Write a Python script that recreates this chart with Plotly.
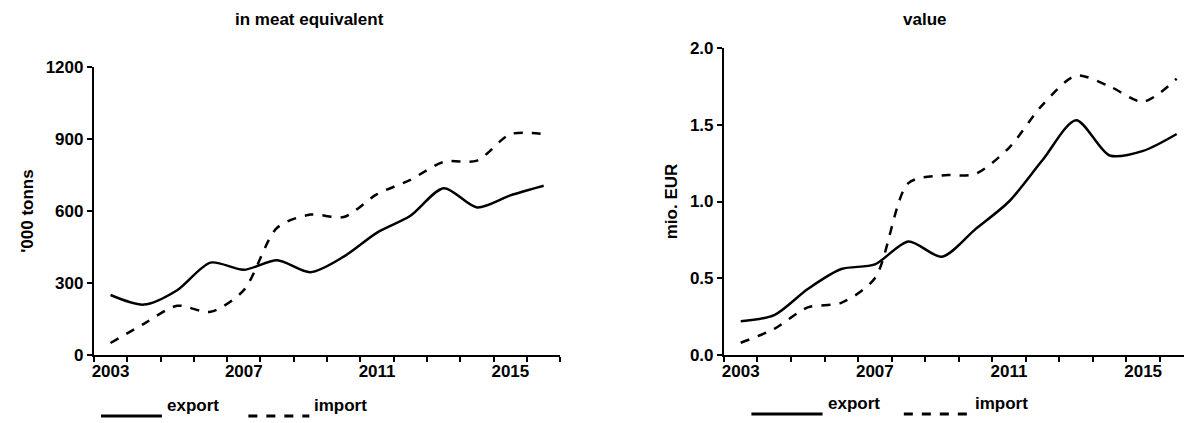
import plotly.graph_objects as go

years = list(range(2003, 2017))
meat_export = [250, 210, 270, 385, 355, 395, 345, 410, 510, 580, 695, 615, 665, 705]
meat_import = [50, 130, 205, 180, 270, 530, 585, 575, 670, 730, 805, 810, 920, 920]
value_export = [0.22, 0.26, 0.43, 0.56, 0.59, 0.74, 0.64, 0.82, 1.0, 1.27, 1.53, 1.30, 1.33, 1.44]
value_import = [0.08, 0.17, 0.31, 0.34, 0.50, 1.12, 1.17, 1.18, 1.35, 1.63, 1.82, 1.75, 1.65, 1.80]
tick_years = [2003, 2007, 2011, 2015]

W, H = 1192, 423
bold = dict(family="Liberation Sans, Arial", size=17, color="black", weight="bold")

fig = go.Figure()
for xa, ya, exp, imp in [("x", "y", meat_export, meat_import), ("x2", "y2", value_export, value_import)]:
    fig.add_trace(go.Scatter(x=years, y=exp, xaxis=xa, yaxis=ya, mode="lines",
                             line=dict(color="black", width=2.5, shape="spline", smoothing=0.8)))
    fig.add_trace(go.Scatter(x=years, y=imp, xaxis=xa, yaxis=ya, mode="lines",
                             line=dict(color="black", width=2.5, dash="dash", shape="spline", smoothing=0.8)))

bounds = [y - 0.5 for y in years] + [years[-1] + 0.5]
xcommon = dict(range=[2002.5, 2016.5], tickvals=tick_years, ticks="", showline=True, linecolor="black",
               linewidth=2, showgrid=False, zeroline=False, tickfont=bold, automargin=False,
               minor=dict(tickvals=bounds, ticks="outside", ticklen=5, tickwidth=1.5, tickcolor="black"))
ycommon = dict(showline=True, linecolor="black", linewidth=2, showgrid=False, zeroline=False,
               ticks="outside", ticklen=5, tickwidth=1.5, tickcolor="black", tickfont=bold, automargin=False)

# the page sits slightly offset/shrunk in the browser; compensate
def py(px):
    return 1 - (px - 8) / H

def pxx(px):
    return (px - 8.5) / 0.984 / W

fig.update_layout(
    width=W, height=H, margin=dict(l=0, r=0, t=0, b=0), showlegend=False,
    plot_bgcolor="white", paper_bgcolor="white", font=bold,
    xaxis=dict(xcommon, domain=[pxx(93), pxx(552)], anchor="y"),
    yaxis=dict(ycommon, domain=[py(355), py(67)], range=[0, 1200], tickvals=[0, 300, 600, 900, 1200],
               anchor="x", title=dict(text="'000 tonns", standoff=8, font=bold)),
    xaxis2=dict(xcommon, domain=[pxx(713), pxx(1175)], anchor="y2"),
    yaxis2=dict(ycommon, domain=[py(355), py(48)], range=[0, 2.0], tickvals=[0, 0.5, 1.0, 1.5, 2.0],
                tickformat=".1f", anchor="x2", title=dict(text="mio. EUR", standoff=8, font=bold)),
)

fig.add_annotation(text="in meat equivalent", x=pxx(230), y=py(8), xref="paper", yref="paper",
                   showarrow=False, font=bold)
fig.add_annotation(text="value", x=pxx(933), y=py(8), xref="paper", yref="paper",
                   showarrow=False, font=bold)

legend = [(100, 160, "solid", "export", 416), (245, 305, "dash", "import", 416),
          (740, 810, "solid", "export", 414), (890, 955, "dash", "import", 414)]
for x0, x1, dash, label, yy in legend:
    fig.add_shape(type="line", xref="paper", yref="paper", x0=pxx(x0), x1=pxx(x1), y0=py(yy), y1=py(yy),
                  line=dict(color="black", width=3, dash=dash))
    fig.add_annotation(text=label, x=pxx(x1 + 3), y=py(yy + 1), xref="paper", yref="paper",
                       xanchor="left", showarrow=False, font=bold)

fig.write_html("out.html")
